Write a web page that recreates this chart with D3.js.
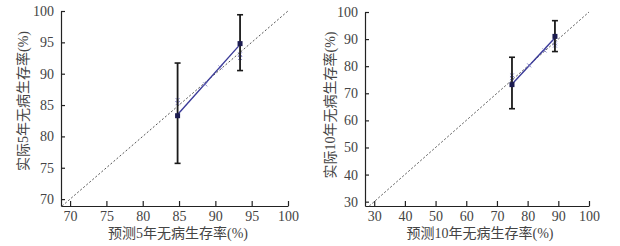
<!DOCTYPE html>
<html>
<head>
<meta charset="utf-8">
<script src="https://cdn.jsdelivr.net/npm/d3@7"></script>
<style>
  body { margin: 0; background: #fff; }
  svg text { font-family: "Liberation Serif", "Times New Roman", "Noto Sans CJK SC", serif; fill: #444; }
  .axis path, .axis line { stroke: #222; stroke-width: 1.2; }
  .axis text { font-size: 14px; fill: #444; font-family: "Liberation Serif", "Times New Roman", serif; }
</style>
</head>
<body>
<div id="chart"></div>
<script>
// 5-year panel
const pred5 = [84.8, 93.4];
const obs5 = [83.3, 94.8];
const lo5 = [75.7, 90.5];
const hi5 = [91.7, 99.4];
const line5 = [[84.9, 83.6], [93.2, 94.4]];
const boot5 = [[84.8, 85.8], [84.8, 85.3], [88.6, 88.3], [90.7, 91.0], [93.4, 93.1], [93.4, 92.5]];
const ticks5 = [70, 75, 80, 85, 90, 95, 100];

// 10-year panel
const pred10 = [74.9, 88.9];
const obs10 = [73.2, 91.0];
const lo10 = [64.3, 85.4];
const hi10 = [83.3, 96.8];
const line10 = [[75.1, 73.6], [88.7, 90.2]];
const boot10 = [[74.9, 76.6], [74.9, 75.6], [80.5, 80.3], [85.5, 85.8], [88.9, 88.4], [88.9, 87.6]];
const ticksX10 = [30, 40, 50, 60, 70, 80, 90, 100];
const ticksY10 = [30, 40, 50, 60, 70, 80, 90, 100];

const svg = d3.select('#chart').append('svg')
    .attr('width', 620)
    .attr('height', 246);

// draw one calibration panel
function drawPanel(p) {
    const g = svg.append('g').attr('transform', `translate(${p.left},${p.top})`);
    const x = d3.scaleLinear().domain(p.xDom).range([0, p.w]);
    const y = d3.scaleLinear().domain(p.yDom).range([p.h, 0]);

    g.append('g').attr('class', 'axis')
        .attr('transform', `translate(0,${p.h})`)
        .call(d3.axisBottom(x).tickValues(p.xTicks).tickSizeInner(-5).tickSizeOuter(0).tickPadding(5))
        .attr('font-family', null);
    g.append('g').attr('class', 'axis')
        .call(d3.axisLeft(y).tickValues(p.yTicks).tickSizeInner(-4).tickSizeOuter(0).tickPadding(7))
        .attr('font-family', null);

    // reference diagonal
    const d0 = Math.max(p.xDom[0], p.yDom[0]);
    g.append('line')
        .attr('x1', x(d0)).attr('y1', y(d0))
        .attr('x2', x(100)).attr('y2', y(100))
        .attr('stroke', '#555').attr('stroke-width', 1)
        .attr('stroke-dasharray', '2,2');

    // calibration line
    g.append('path')
        .datum(p.line)
        .attr('d', d3.line().x(d => x(d[0])).y(d => y(d[1])))
        .attr('fill', 'none')
        .attr('stroke', '#3a3a98')
        .attr('stroke-width', 1.4);

    // bootstrap markers
    g.selectAll('.boot').data(p.boot).join('path')
        .attr('class', 'boot')
        .attr('d', d => {
            const cx = x(d[0]), cy = y(d[1]);
            return `M${cx - 2},${cy - 2}L${cx + 2},${cy + 2}M${cx - 2},${cy + 2}L${cx + 2},${cy - 2}`;
        })
        .attr('stroke', '#7a7ac4')
        .attr('stroke-width', 0.9);

    // error bars
    const bars = g.selectAll('.err').data(p.pred).join('g').attr('class', 'err');
    bars.append('line')
        .attr('x1', d => x(d)).attr('x2', d => x(d))
        .attr('y1', (d, i) => y(p.lo[i])).attr('y2', (d, i) => y(p.hi[i]))
        .attr('stroke', '#1a1a1a').attr('stroke-width', 1.8);
    [p.lo, p.hi].forEach(arr => {
        bars.append('line')
            .attr('x1', d => x(d) - 3).attr('x2', d => x(d) + 3)
            .attr('y1', (d, i) => y(arr[i])).attr('y2', (d, i) => y(arr[i]))
            .attr('stroke', '#1a1a1a').attr('stroke-width', 1.6);
    });
    bars.append('rect')
        .attr('x', d => x(d) - 2.5)
        .attr('y', (d, i) => y(p.obs[i]) - 2.5)
        .attr('width', 5).attr('height', 5)
        .attr('fill', '#1c1c50');

    // labels
    g.append('text')
        .attr('x', p.xLabelX).attr('y', p.h + 32)
        .attr('text-anchor', 'middle')
        .style('font-size', '14px')
        .text(p.xLabel);
    g.append('text')
        .attr('transform', `translate(${p.yLabelX},${p.yLabelY})rotate(-90)`)
        .attr('text-anchor', 'middle')
        .style('font-size', '14px')
        .text(p.yLabel);
}

drawPanel({
    left: 61, top: 11, w: 227, h: 195,
    xDom: [68.75, 100], yDom: [68.9, 100],
    xTicks: ticks5, yTicks: ticks5,
    pred: pred5, obs: obs5, lo: lo5, hi: hi5, line: line5, boot: boot5,
    xLabel: '预测5年无病生存率(%)', yLabel: '实际5年无病生存率(%)',
    xLabelX: 117, yLabelX: -33, yLabelY: 90
});

drawPanel({
    left: 365, top: 12, w: 224, h: 194,
    xDom: [27, 100], yDom: [28.4, 100],
    xTicks: ticksX10, yTicks: ticksY10,
    pred: pred10, obs: obs10, lo: lo10, hi: hi10, line: line10, boot: boot10,
    xLabel: '预测10年无病生存率(%)', yLabel: '实际10年无病生存率(%)',
    xLabelX: 115, yLabelX: -30, yLabelY: 93
});
</script>
</body>
</html>
